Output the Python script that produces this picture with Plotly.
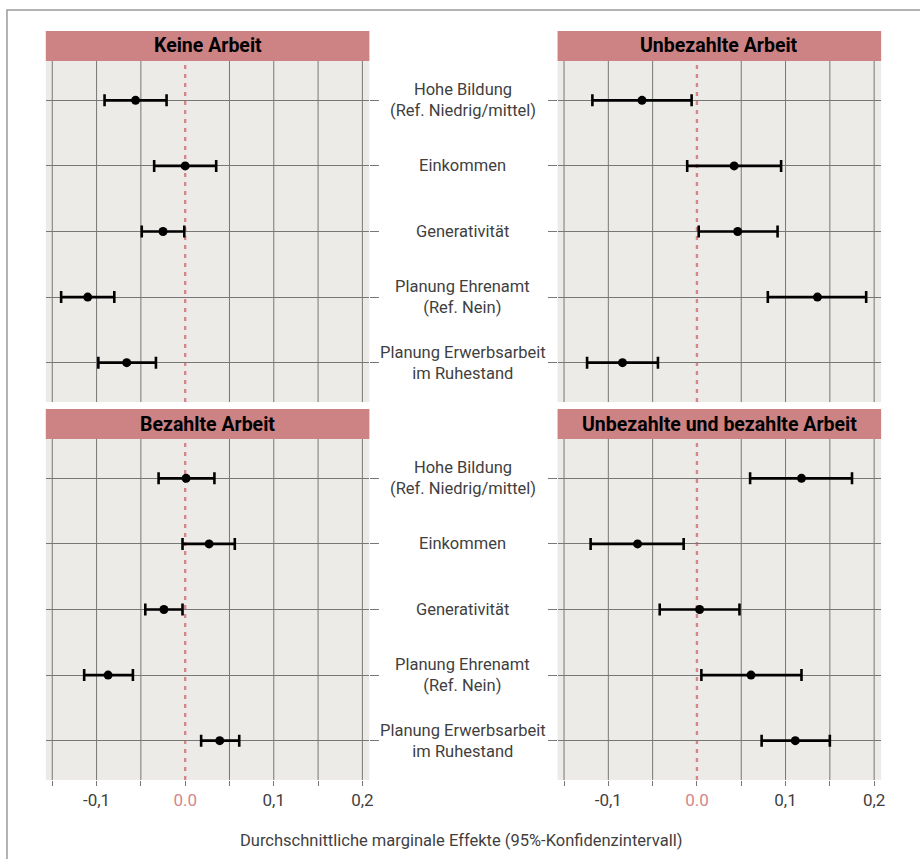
import plotly.graph_objects as go

# ---------------- data ----------------
categories = [
    "Hohe Bildung<br>(Ref. Niedrig/mittel)",
    "Einkommen",
    "Generativität",
    "Planung Ehrenamt<br>(Ref. Nein)",
    "Planung Erwerbsarbeit<br>im Ruhestand",
]
panel_titles = ["Keine Arbeit", "Unbezahlte Arbeit", "Bezahlte Arbeit",
                "Unbezahlte und bezahlte Arbeit"]

keine_est = [-0.056, 0.000, -0.025, -0.110, -0.066]
keine_lo = [-0.091, -0.035, -0.049, -0.140, -0.098]
keine_hi = [-0.021, 0.035, -0.001, -0.080, -0.033]

unbez_est = [-0.062, 0.042, 0.046, 0.136, -0.084]
unbez_lo = [-0.118, -0.011, 0.002, 0.080, -0.124]
unbez_hi = [-0.006, 0.095, 0.091, 0.191, -0.044]

bez_est = [0.001, 0.027, -0.024, -0.087, 0.039]
bez_lo = [-0.030, -0.003, -0.045, -0.114, 0.018]
bez_hi = [0.033, 0.056, -0.003, -0.059, 0.061]

beide_est = [0.118, -0.067, 0.003, 0.061, 0.111]
beide_lo = [0.060, -0.120, -0.042, 0.005, 0.073]
beide_hi = [0.175, -0.015, 0.048, 0.118, 0.150]

tick_vals = [-0.15, -0.1, -0.05, 0.0, 0.05, 0.1, 0.15, 0.2]
tick_text = ["", "-0,1", "", "<span style='color:#D4868B'>0.0</span>", "", "0,1", "", "0,2"]
x_title = "Durchschnittliche marginale Effekte (95%-Konfidenzintervall)"

# ---------------- style ----------------
W, H = 920, 859
FONT = "Roboto"
BG = "#EDEBE7"
GRID = "#777777"
PINK = "#D4868B"
STRIP = "#CD8284"
TXT = "#3f3f3f"

def px_x(p):
    return p / W

def px_y(p):
    return 1 - p / H

x_dom = [[px_x(46), px_x(371)], [px_x(560), px_x(885)]]
y_dom_top = [px_y(402), px_y(61)]
y_dom_bot = [px_y(780), px_y(439)]
strip_top = [31, 61]
strip_bot = [409, 439]

panels = [
    (keine_est, keine_lo, keine_hi, 0, "top"),
    (unbez_est, unbez_lo, unbez_hi, 1, "top"),
    (bez_est, bez_lo, bez_hi, 0, "bot"),
    (beide_est, beide_lo, beide_hi, 1, "bot"),
]

fig = go.Figure()
layout = dict(
    width=W, height=H, margin=dict(l=0, r=0, t=0, b=0),
    paper_bgcolor="white", plot_bgcolor=BG, showlegend=False,
    font=dict(family=FONT, size=16.5, color=TXT),
)
shapes = []
annotations = []

for i, (est, lo, hi, col, row) in enumerate(panels):
    n = i + 1
    xa = "x" if n == 1 else f"x{n}"
    ya = "y" if n == 1 else f"y{n}"
    err_plus = [h - e for h, e in zip(hi, est)]
    err_minus = [e - l for e, l in zip(est, lo)]
    fig.add_trace(go.Scatter(
        x=est, y=categories, xaxis=xa, yaxis=ya, mode="markers",
        marker=dict(color="black", size=9),
        error_x=dict(type="data", array=err_plus, arrayminus=err_minus,
                     color="black", thickness=2.6, width=6),
        hoverinfo="skip",
    ))
    xkey = "xaxis" if n == 1 else f"xaxis{n}"
    ykey = "yaxis" if n == 1 else f"yaxis{n}"
    is_bot = row == "bot"
    layout[xkey] = dict(
        domain=x_dom[col], anchor=ya, range=[-0.1573, 0.2079],
        tickmode="array", tickvals=tick_vals, ticktext=tick_text,
        showgrid=False, zeroline=False,
        showline=False, ticks="outside" if is_bot else "", ticklen=5,
        tickcolor=GRID, showticklabels=is_bot,
        tickfont=dict(family=FONT, size=17, color=TXT),
        fixedrange=True,
    )
    layout[ykey] = dict(
        domain=y_dom_bot if is_bot else y_dom_top, anchor=xa,
        type="category", categoryarray=categories, range=[4.6, -0.6],
        showgrid=True, gridcolor=GRID, gridwidth=1, zeroline=False,
        showline=False, ticks="outside", ticklen=9, tickcolor=GRID,
        side="right" if col == 0 else "left", showticklabels=False,
        fixedrange=True,
    )
    # vertical grid lines (zero gets the dashed reference line instead)
    for v in tick_vals:
        if v == 0:
            shapes.append(dict(type="line", xref=xa, yref=f"{ya} domain",
                               x0=v, x1=v, y0=0, y1=1, layer="below",
                               line=dict(color=PINK, width=2.4, dash="4px,5px")))
        else:
            shapes.append(dict(type="line", xref=xa, yref=f"{ya} domain",
                               x0=v, x1=v, y0=0, y1=1, layer="below",
                               line=dict(color=GRID, width=1)))
    # strip
    st = strip_bot if is_bot else strip_top
    shapes.append(dict(type="rect", xref="paper", yref="paper",
                       x0=x_dom[col][0], x1=x_dom[col][1],
                       y0=px_y(st[1]), y1=px_y(st[0]),
                       fillcolor=STRIP, line=dict(width=0), layer="above"))
    annotations.append(dict(xref="paper", yref="paper",
                            x=(x_dom[col][0] + x_dom[col][1]) / 2,
                            y=px_y((st[0] + st[1]) / 2), text=f"<b>{panel_titles[i]}</b>",
                            showarrow=False, xanchor="center", yanchor="middle",
                            font=dict(family=FONT, size=19.5, color="black")))
    # category labels in the middle (once per row, from left panel axis)
    if col == 0:
        for c in categories:
            annotations.append(dict(xref="paper", yref=ya, x=px_x(465), y=c,
                                    text=c, showarrow=False, xanchor="center",
                                    yanchor="middle", align="center",
                                    font=dict(family=FONT, size=16.5, color=TXT)))

# outer frame
shapes.append(dict(type="rect", xref="paper", yref="paper",
                   x0=px_x(7), x1=1.05, y0=-0.05, y1=px_y(10),
                   line=dict(color="#9a9a9a", width=1.5), layer="above"))

annotations.append(dict(xref="paper", yref="paper", x=px_x(463), y=px_y(840),
                        text=x_title, showarrow=False, xanchor="center",
                        yanchor="middle", font=dict(family=FONT, size=16.5, color=TXT)))

layout["shapes"] = shapes
layout["annotations"] = annotations
fig.update_layout(**layout)
fig.write_html("out.html", config={"displayModeBar": False},
               post_script="document.body.style.margin='0';")
